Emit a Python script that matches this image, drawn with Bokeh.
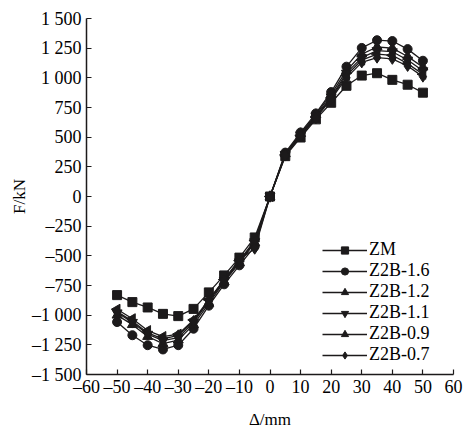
import math
from bokeh.plotting import figure
from bokeh.models import Range1d, FixedTicker, Legend, LegendItem
from bokeh.embed import file_html
from bokeh.resources import INLINE

# ---- data ----
disp = [-50, -45, -40, -35, -30, -25, -20, -15, -10, -5, 0,
        5, 10, 15, 20, 25, 30, 35, 40, 45, 50]

zm = [-831, -890, -935, -989, -1008, -947, -808, -665, -515, -345, 0,
      340, 497, 650, 790, 933, 1019, 1039, 983, 942, 875]
z16 = [-1058, -1169, -1253, -1289, -1253, -1114, -920, -740, -580, -420, 0,
       370, 540, 700, 880, 1094, 1252, 1317, 1310, 1242, 1144]
z12 = [-1000, -1080, -1180, -1240, -1210, -1080, -900, -720, -560, -390, 0,
       360, 530, 690, 860, 1060, 1200, 1260, 1250, 1180, 1090]
z11 = [-980, -1060, -1160, -1215, -1190, -1060, -880, -710, -550, -380, 0,
       355, 520, 680, 840, 1040, 1170, 1230, 1220, 1150, 1060]
z09 = [-950, -1030, -1130, -1180, -1160, -1040, -870, -700, -540, -370, 0,
       350, 515, 670, 830, 1020, 1150, 1200, 1190, 1120, 1030]
z07 = [-970, -1050, -1150, -1200, -1170, -1050, -880, -700, -530, -440, 0,
       345, 510, 660, 820, 1000, 1130, 1170, 1160, 1100, 1010]

series_names = ["ZM", "Z2B-1.6", "Z2B-1.2", "Z2B-1.1", "Z2B-0.9", "Z2B-0.7"]
series_vals = [zm, z16, z12, z11, z09, z07]

x_ticks = [-60, -50, -40, -30, -20, -10, 0, 10, 20, 30, 40, 50, 60]
x_tick_labels = ["\u201360", "\u201350", "\u201340", "\u201330", "\u201320", "\u201310",
                 "0", "10", "20", "30", "40", "50", "60"]
y_ticks = [-1500, -1250, -1000, -750, -500, -250, 0, 250, 500, 750, 1000, 1250, 1500]
y_tick_labels = ["\u20131 500", "\u20131 250", "\u20131 000", "\u2013750", "\u2013500", "\u2013250",
                 "0", "250", "500", "750", "1 000", "1 250", "1 500"]
x_title = "\u0394/mm"
y_title = "F/kN"

FONT = "Liberation Serif"
INK = "#1c1a1b"

p = figure(width=473, height=431, output_backend="svg", toolbar_location=None,
           x_range=Range1d(-60, 60), y_range=Range1d(-1500, 1500),
           min_border_left=86, min_border_right=20, min_border_top=18,
           min_border_bottom=53)
p.outline_line_color = None
p.grid.visible = False
p.background_fill_color = "white"

for ax, ticks, labels in ((p.xaxis[0], x_ticks, x_tick_labels),
                          (p.yaxis[0], y_ticks, y_tick_labels)):
    ax.ticker = FixedTicker(ticks=ticks)
    ax.major_label_overrides = {t: l for t, l in zip(ticks, labels)}
    ax.major_tick_in = 5
    ax.major_tick_out = 0
    ax.minor_tick_in = 0
    ax.minor_tick_out = 0
    ax.axis_line_width = 1.5
    ax.axis_line_color = INK
    ax.major_tick_line_color = INK
    ax.major_tick_line_width = 1.2
    ax.major_label_text_font = FONT
    ax.major_label_text_font_size = "18px"
    ax.major_label_text_color = "black"
    ax.axis_label_text_font = FONT
    ax.axis_label_text_font_size = "17px"
    ax.axis_label_text_font_style = "normal"
    ax.axis_label_text_color = "black"
p.yaxis[0].major_label_standoff = 5
p.xaxis[0].major_label_standoff = 2
p.xaxis[0].axis_label = x_title
p.yaxis[0].axis_label = y_title
p.xaxis[0].axis_label_standoff = 10
p.yaxis[0].axis_label_standoff = 0

markers = [
    dict(marker="square", size=9, angle=0),
    dict(marker="circle", size=9, angle=0),
    dict(marker="triangle", size=10, angle=0),
    dict(marker="inverted_triangle", size=10, angle=0),
    dict(marker="triangle", size=10, angle=math.pi / 2),
    dict(marker="diamond", size=11, angle=0),
]

items = []
for name, vals, mk in zip(series_names, series_vals, markers):
    lr = p.line(disp, vals, line_color=INK, line_width=1.3)
    sr = p.scatter(disp, vals, marker=mk["marker"], size=mk["size"], angle=mk["angle"],
                   fill_color=INK, line_color=INK)
    items.append(LegendItem(label=name, renderers=[lr, sr]))

legend = Legend(items=items, location=(236, 9), padding=0, margin=0, spacing=0,
                glyph_width=45, glyph_height=18, label_height=18, label_standoff=2,
                border_line_alpha=0, background_fill_alpha=0,
                label_text_font=FONT, label_text_font_size="18px",
                label_text_color="black")
p.add_layout(legend)

open("out.html", "w").write(file_html(p, INLINE))
